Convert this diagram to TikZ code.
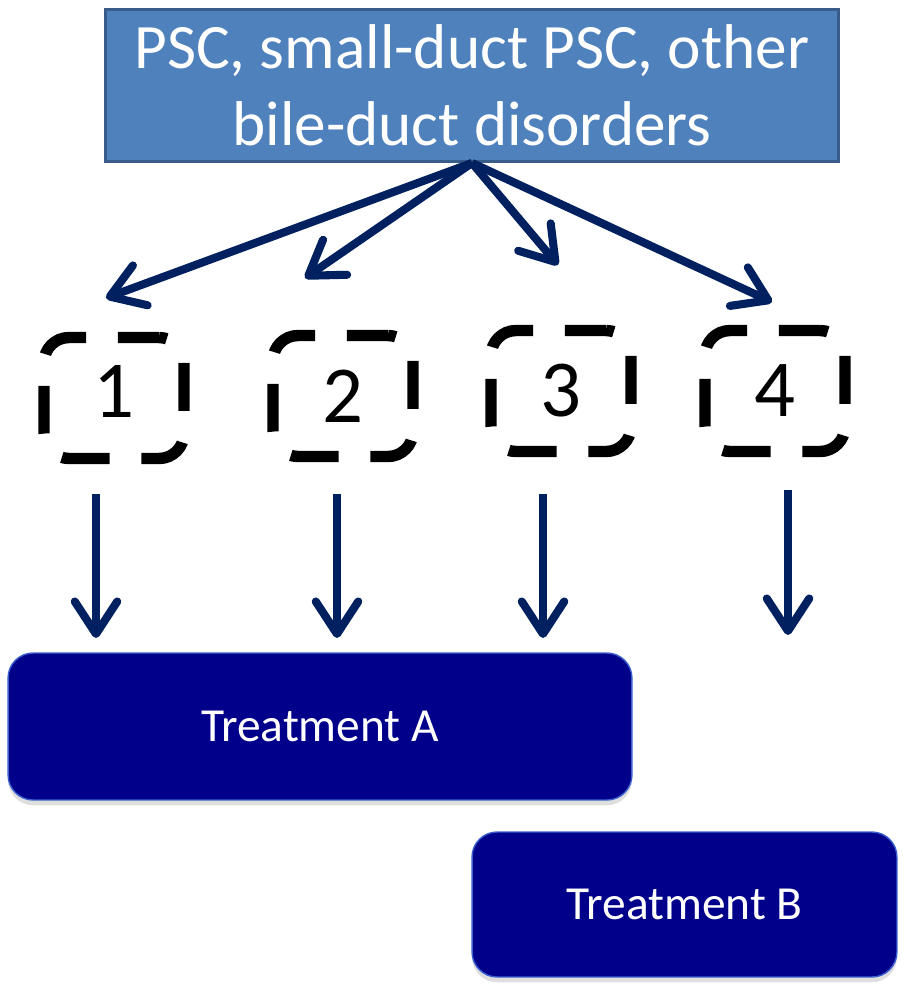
\documentclass[tikz,border=0pt]{standalone}
\usepackage{fontspec}
\setmainfont{Carlito}
\usetikzlibrary{arrows.meta, shadows}

\definecolor{headfill}{HTML}{4F81BD}
\definecolor{headborder}{HTML}{385D8A}
\definecolor{linkcol}{HTML}{002060}
\definecolor{treatfill}{HTML}{00008B}
\definecolor{treatborder}{HTML}{3A5FCD}

\begin{document}
\begin{tikzpicture}[
    x=0.02cm, y=-0.02cm,
    >={Straight Barb[length=0.65cm, width=0.85cm, round]},
    head/.style={rectangle, draw=headborder, line width=1.7pt, fill=headfill, text=white,
        minimum width=14.66cm, minimum height=3.04cm, inner sep=0pt, align=center,
        font=\fontsize{36}{44}\selectfont},
    group/.style={rectangle, rounded corners=0.5cm, draw=black, line width=6.5pt,
        dash pattern=on 27.2pt off 18.1pt, dash phase=3.8pt,
        minimum width=2.8cm, minimum height=2.42cm, inner sep=0pt,
        font=\fontsize{46}{50}\selectfont},
    treat/.style={rectangle, rounded corners=0.5cm, draw=treatborder, line width=0.8pt,
        fill=treatfill, text=white, inner sep=0pt, font=\fontsize{27}{30}\selectfont,
        drop shadow={shadow xshift=0pt, shadow yshift=-3pt, opacity=0.25}},
    link/.style={->, draw=linkcol, line width=4.6pt}
]
    \useasboundingbox (0,0) rectangle (905,987);

    % Исходная группа
    \node[head] (src) at (472,85.5) {PSC, small-duct PSC, other\\bile-duct disorders};

    % Подгруппы 1--4
    \node[group] (g1) at (114,398) {\raisebox{7pt}{1}};
    \node[group] (g2) at (343,396) {2};
    \node[group] (g3) at (561,391) {3};
    \node[group] (g4) at (775,391) {4};

    % Лечение
    \node[treat, minimum width=12.48cm, minimum height=2.94cm] (trA) at (320,726.5) {Treatment A};
    \node[treat, minimum width=8.5cm, minimum height=2.9cm] (trB) at (684.5,904.5) {Treatment B};

    % Концы стрелок
    \coordinate (e1) at (106,298);
    \coordinate (e2) at (305,278);
    \coordinate (e3) at (558,265);
    \coordinate (e4) at (772,302);

    \coordinate (s1) at (96,494);
    \coordinate (s2) at (337,494);
    \coordinate (s3) at (543,494);
    \coordinate (s4) at (788,490);
    \coordinate (t1) at (96,638);
    \coordinate (t2) at (337,638);
    \coordinate (t3) at (543,638);
    \coordinate (t4) at (788,635);

    % Стрелки от исходной группы
    \draw[link] (src.south) -- (e1);
    \draw[link] (src.south) -- (e2);
    \draw[link] (src.south) -- (e3);
    \draw[link] (src.south) -- (e4);

    % Вертикальные стрелки
    \draw[link] (s1) -- (t1);
    \draw[link] (s2) -- (t2);
    \draw[link] (s3) -- (t3);
    \draw[link] (s4) -- (t4);
\end{tikzpicture}
\end{document}
